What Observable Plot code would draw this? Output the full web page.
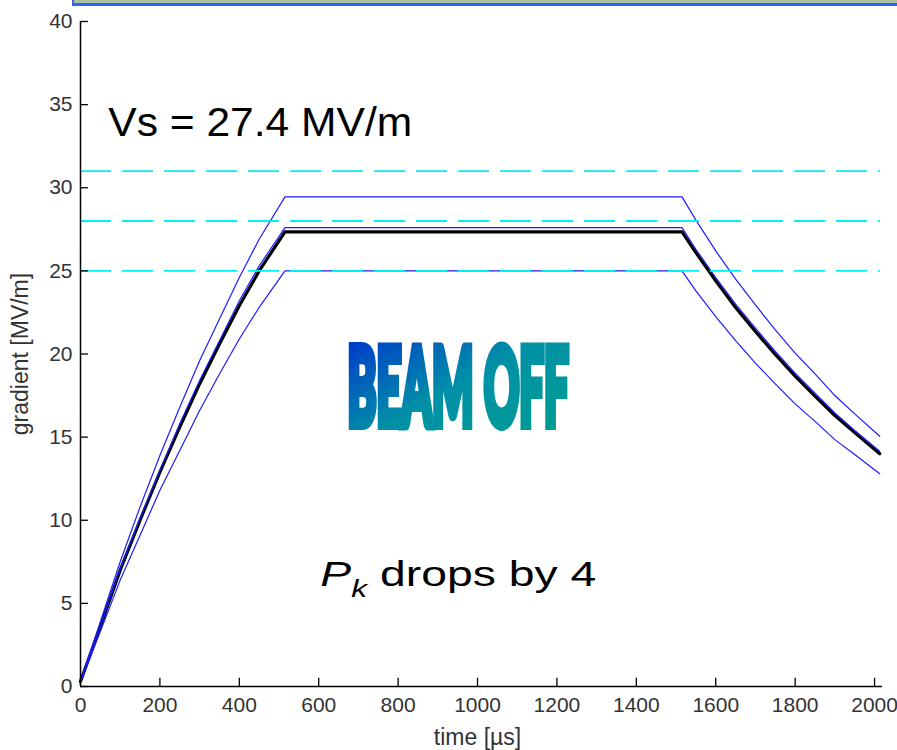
<!DOCTYPE html>
<html><head><meta charset="utf-8">
<script src="https://cdn.jsdelivr.net/npm/d3@7"></script>
<script src="https://cdn.jsdelivr.net/npm/@observablehq/plot@0.6"></script>
<style>
body{margin:0;background:#fff;}
#wrap{position:relative;width:897px;height:750px;overflow:hidden;}
#topbar{position:absolute;z-index:2;left:72px;top:0;width:823px;height:3px;background:#a6c2a2;border-left:2px solid #3363ee;border-bottom:3px solid #3363ee;}
text{white-space:pre;}
</style></head><body><div id="wrap"><div id="topbar"></div></div>
<script>
// time samples [µs]
const time = [0,50,100,150,200,250,300,350,400,450,515,1515,1550,1600,1650,1700,1750,1800,1850,1900,1950,2013];
// gradient [MV/m]
const gBlack = [0.3,3.6,7.0,10.0,12.9,15.6,18.2,20.6,22.9,25.0,27.35,27.35,26.1,24.4,22.8,21.35,19.97,18.67,17.47,16.3,15.28,14.0];
const gNear  = [0.3,3.6,7.1,10.1,13.0,15.8,18.4,20.8,23.2,25.3,27.6,27.6,26.3,24.6,23.0,21.55,20.15,18.85,17.65,16.45,15.4,14.15];
const gUpper = [0.3,3.9,7.5,10.8,13.9,16.8,19.6,22.1,24.6,26.9,29.45,29.45,28.05,26.2,24.5,22.95,21.45,20.05,18.8,17.5,16.4,15.05];
const gLower = [0.3,3.3,6.4,9.1,11.8,14.2,16.6,18.8,20.9,22.8,25.0,25.0,23.8,22.25,20.8,19.45,18.2,17.0,15.95,14.85,13.95,12.8];
const refLevels = [31, 28, 25];
const xTicks = [0,200,400,600,800,1000,1200,1400,1600,1800,2000];
const yTicks = [0,5,10,15,20,25,30,35,40];
const xLabel = "time [µs]";
const yLabel = "gradient [MV/m]";
const vsLabel = "Vs = 27.4 MV/m";
const beamLabel = "BEAM OFF";
const pkMain = "P", pkSub = "k", pkRest = " drops by 4";

const rows = (vals) => time.map((t, i) => ({t, v: vals[i]}));
const font = "Liberation Sans, Arial, sans-serif";

const chart = Plot.plot({
  width: 897, height: 750,
  marginLeft: 80, marginRight: 15, marginTop: 21, marginBottom: 64,
  x: {domain: [0, 2020], axis: null},
  y: {domain: [0, 40], axis: null},
  style: {background: "white", overflow: "visible", fontFamily: font},
  marks: [
    Plot.line(rows(gBlack), {x: "t", y: "v", stroke: "#000", strokeWidth: 3.2}),
    Plot.line(rows(gNear), {x: "t", y: "v", stroke: "#1c1cff", strokeWidth: 1.2}),
    Plot.line(rows(gUpper), {x: "t", y: "v", stroke: "#1c1cff", strokeWidth: 1.2}),
    Plot.line(rows(gLower), {x: "t", y: "v", stroke: "#1c1cff", strokeWidth: 1.2}),
    Plot.ruleY(refLevels, {y: d => d, x1: 0, x2: 2015, stroke: "#00f2f2", strokeWidth: 1.8, strokeDasharray: "31,11"}),
    Plot.ruleX([0], {y1: 0, y2: 40, stroke: "#000", strokeWidth: 1.5}),
    Plot.ruleY([0], {x1: 0, x2: 2020, stroke: "#000", strokeWidth: 1.5}),
    Plot.ruleX(xTicks, {x: d => d, y1: 0, y2: 0.5, stroke: "#000", strokeWidth: 1.3}),
    Plot.ruleY(yTicks, {y: d => d, x1: 0, x2: 20, stroke: "#000", strokeWidth: 1.3}),
    Plot.axisX(xTicks, {anchor: "bottom", tickSize: 0, tickPadding: 11, tickFormat: d => `${d}`, fontSize: 21, color: "#333", label: null, fontFamily: font}),
    Plot.axisY(yTicks, {anchor: "left", tickSize: 0, tickPadding: 8, tickFormat: d => `${d}`, fontSize: 21, color: "#333", label: null, fontFamily: font}),
    Plot.text([xLabel], {text: d => d, frameAnchor: "bottom", textAnchor: "middle", lineAnchor: "middle", dx: -4, dy: 51, fontSize: 23, fill: "#333", fontFamily: font}),
    Plot.text([yLabel], {text: d => d, frameAnchor: "left", textAnchor: "middle", lineAnchor: "middle", dx: -60, rotate: -90, fontSize: 23, fill: "#333", fontFamily: font}),
    Plot.text([vsLabel], {text: d => d, x: 70, y: 33.9, textAnchor: "start", fontSize: 41, fill: "#000", fontFamily: font}),
    Plot.text([beamLabel], {text: d => d, x: 951, y: 17.8, fontSize: 106, fontWeight: 900, fontFamily: "Lato, Liberation Sans, sans-serif"}),
    Plot.text([pkMain], {text: d => d, x: 604, y: 6.7, textAnchor: "start", fontSize: 35, fill: "#000", fontFamily: font})
  ]
});

document.getElementById("wrap").prepend(chart);

function findText(str) {
  return Array.from(chart.querySelectorAll("text")).find(t => t.textContent === str) || null;
}

function fit(el, target) {
  const b = el.getBBox();
  const sx = target / b.width;
  const tr = el.getAttribute("transform") || "";
  el.setAttribute("transform", tr + ` scale(${sx},1)`);
}

// gradient for BEAM OFF
const defs = d3.select(chart).insert("defs", ":first-child");
const grad = defs.append("linearGradient").attr("id", "beamGrad")
  .attr("x1", 0).attr("y1", 0).attr("x2", 1).attr("y2", 1);
grad.append("stop").attr("offset", 0).attr("stop-color", "#0028d2");
grad.append("stop").attr("offset", 0.5).attr("stop-color", "#0090a6");
grad.append("stop").attr("offset", 1).attr("stop-color", "#00a090");

const beam = findText(beamLabel);
if (beam) {
  beam.setAttribute("fill", "url(#beamGrad)");
  beam.setAttribute("stroke", "url(#beamGrad)");
  beam.setAttribute("stroke-width", 10);
  beam.setAttribute("stroke-linejoin", "miter");
  fit(beam, 221);
}

const vs = findText(vsLabel);
if (vs) fit(vs, 304);

const pk = findText(pkMain);
if (pk) {
  pk.textContent = "";
  const s = d3.select(pk);
  s.append("tspan").attr("font-style", "italic").text(pkMain);
  s.append("tspan").attr("font-style", "italic").attr("font-size", 24).attr("dy", 11).text(pkSub);
  s.append("tspan").attr("dy", -11).text(pkRest);
  fit(pk, 276);
}
</script>
</body></html>
